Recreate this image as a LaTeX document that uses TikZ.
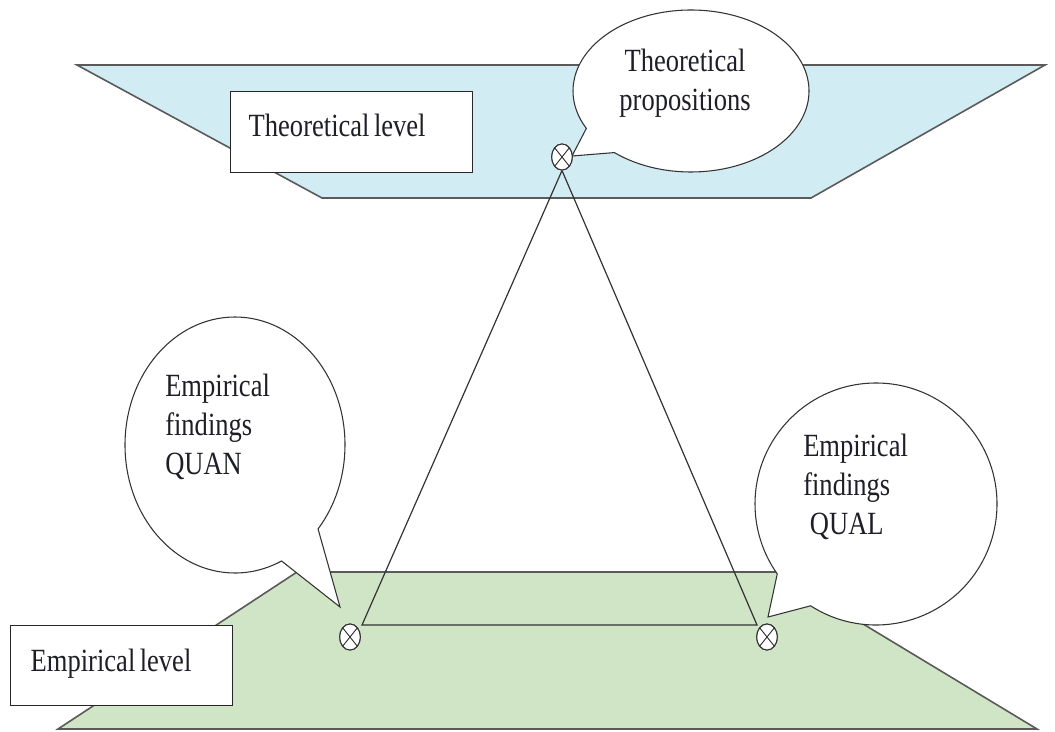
\documentclass[tikz,border=0pt]{standalone}
\usepackage{fontspec}
\usepackage{graphicx}
\setmainfont{Liberation Serif}
\usetikzlibrary{shapes.callouts,shapes.geometric}
\definecolor{theoblue}{HTML}{D2ECF3}
\definecolor{empgreen}{HTML}{CFE5C5}
\definecolor{edgegray}{HTML}{5A5A5A}
\definecolor{inktext}{HTML}{1E1E28}
% tall, slightly condensed text as in the original figure
\newcommand\tallline[1]{\scalebox{1}[1.22]{\fontsize{19.9}{24}\selectfont #1}}
\newcommand\tallbox[2][l]{\scalebox{1}[1.22]{\fontsize{19.9}{24}\selectfont\begin{tabular}{@{}#1@{}}#2\end{tabular}}}
\begin{document}
\begin{tikzpicture}[x=0.75pt,y=-0.75pt,
  level/.style={draw=edgegray, line width=1.2pt, line join=miter},
  labelbox/.style={rectangle, draw=black!85, line width=1.1pt, fill=white,
    anchor=north west, inner ysep=0pt, align=left, text=inktext},
  bubble/.style={ellipse callout, draw=black!80, line width=0.8pt, fill=white, inner sep=0pt},
  xmark/.style={ellipse, draw=black!80, line width=0.8pt, fill=white,
    minimum width=15.5pt, minimum height=19.5pt, inner sep=0pt,
    path picture={\draw[line width=0.7pt]
      ([shift={(5.5pt,6.9pt)}]path picture bounding box.center) -- ([shift={(-5.5pt,-6.9pt)}]path picture bounding box.center)
      ([shift={(-5.5pt,6.9pt)}]path picture bounding box.center) -- ([shift={(5.5pt,-6.9pt)}]path picture bounding box.center);}},
  txt/.style={inner sep=0pt, text=inktext}]

\useasboundingbox (0,0) rectangle (1055,731);

% the two levels
\draw[level, fill=theoblue] (77,65) -- (1045,65) -- (811,198) -- (322,198) -- cycle;
\draw[level, fill=empgreen] (297,572) -- (777,572) -- (1037,729) -- (58,729) -- cycle;

% level labels
\node[labelbox, minimum width=181.5pt, text width=154.5pt, inner xsep=13.5pt,
      text height=33.75pt, text depth=27pt] (theolevel) at (230,91) {\tallline{Theoretical level}};
\node[labelbox, minimum width=166.5pt, text width=136.5pt, inner xsep=15pt,
      text height=34.5pt, text depth=25.5pt] (emplevel) at (10,625) {\tallline{Empirical level}};

% markers and the triangle joining them
\node[xmark] (mt) at (562,157) {};
\node[xmark] (ml) at (350,637) {};
\node[xmark] (mr) at (767,637) {};
\coordinate (tl) at (362,625);
\coordinate (tr) at (757,625);
\draw[line width=0.9pt, black!80] (mt.south) -- (tl) -- (tr) -- (mt.south);

% speech bubbles
\node[bubble, minimum width=177pt, minimum height=121.5pt,
      callout absolute pointer={(572,156)}, callout pointer arc=22] (cprop) at (691,91) {};
\node[bubble, minimum width=165pt, minimum height=192pt,
      callout absolute pointer={(340,607)}, callout pointer arc=24] (cquan) at (235,445) {};
\node[bubble, minimum width=181.5pt, minimum height=181.5pt,
      callout absolute pointer={(768,617)}, callout pointer arc=22] (cqual) at (876,504) {};

% markers on top of the bubble tails
\node[xmark] at (mt) {};
\node[xmark] at (ml) {};
\node[xmark] at (mr) {};

% bubble texts
\node[txt] (tprop) at (685,83) {\tallbox[c]{Theoretical\\propositions}};
\node[txt, anchor=west] (tquan) at (165,428) {\tallbox{Empirical\\findings\\QUAN}};
\node[txt, anchor=west] (tqual) at (803,488) {\tallbox{Empirical\\findings\\\hspace{5pt}QUAL}};
\end{tikzpicture}
\end{document}
